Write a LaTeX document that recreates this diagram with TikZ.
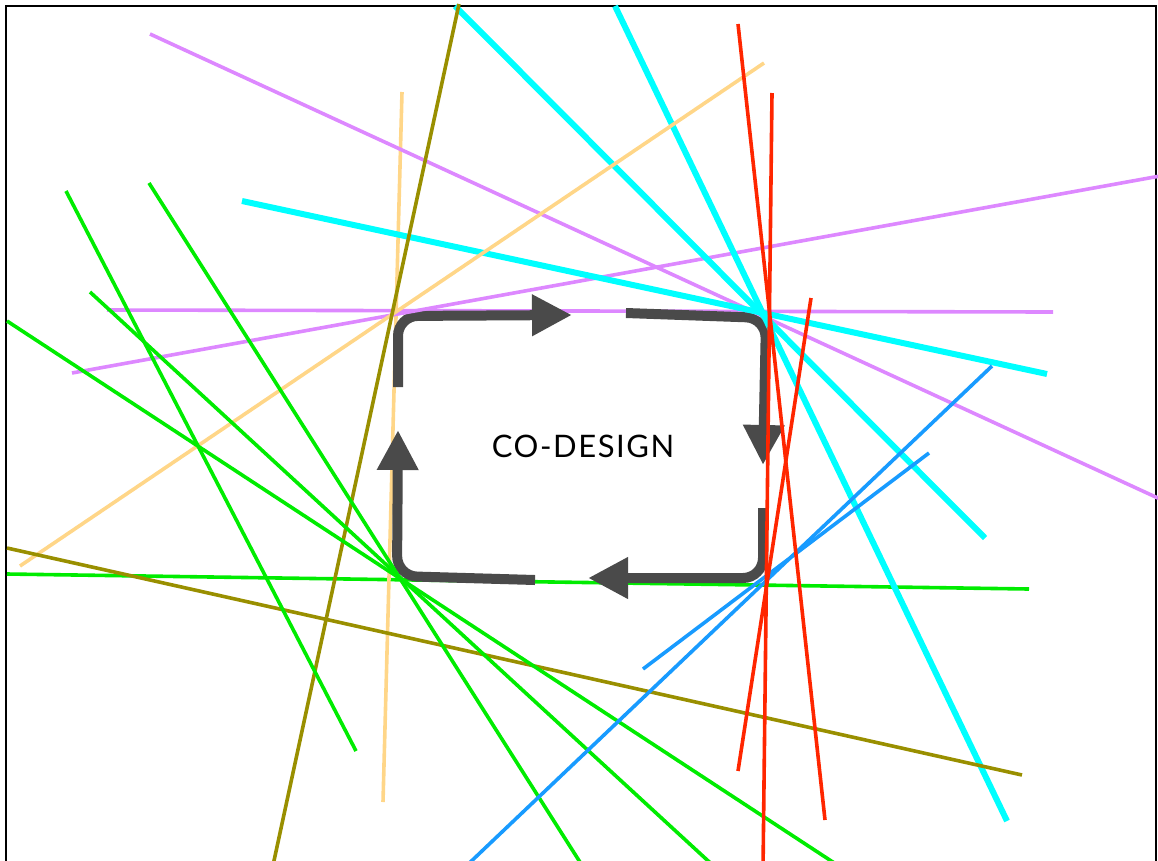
\documentclass[tikz,border=0pt]{standalone}
\usepackage{fontspec}
\setmainfont{Lato}
\usepackage{tikz}
\usetikzlibrary{arrows.meta}

\definecolor{lilac}{RGB}{221,136,255}
\definecolor{aqua}{RGB}{0,255,255}
\definecolor{leaf}{RGB}{0,236,0}
\definecolor{scarlet}{RGB}{255,38,0}
\definecolor{mustard}{RGB}{153,143,0}
\definecolor{peach}{RGB}{255,214,136}
\definecolor{sky}{RGB}{24,155,255}
\definecolor{loopgray}{RGB}{74,74,74}

\begin{document}
\begin{tikzpicture}[x=1pt, y=-1pt]
  \tikzset{ray/.style={line width=3.6pt},
    wide ray/.style={line width=6pt},
    cycle arrow/.style={draw=loopgray, line width=10pt, rounded corners=20pt, -{Triangle[length=40pt, width=39pt]}}}
  \useasboundingbox (0,0) rectangle (1158,860);
  \clip (0,0) rectangle (1158,860);
  \draw[line width=2pt] (6,6) rectangle (1156,890);

  % lines running behind the loop
  \draw[ray, lilac] (107,310) -- (1053,312);
  \draw[ray, leaf] (7,574) -- (1029,589);
  \draw[ray, peach] (402,92) -- (383,802);

  % the co-design loop
  \draw[cycle arrow] (398,387) -- (398,316) -- (572,315);
  \draw[cycle arrow] (626,313) -- (766,318) -- (763,465);
  \draw[cycle arrow] (763,508) -- (763,578) -- (588,578);
  \draw[cycle arrow] (535,580) -- (397,576) -- (398,430);
  \node[font=\fontsize{31}{31}\selectfont\addfontfeature{LetterSpace=5}] (codesign) at (583,446) {CO-DESIGN};

  % lines on top
  \draw[ray, lilac] (150,34) -- (1160,499);
  \draw[ray, lilac] (72,373) -- (1160,176);
  \draw[wide ray, aqua] (455,6) -- (985,538);
  \draw[wide ray, aqua] (615,6) -- (1007,821);
  \draw[wide ray, aqua] (242,201) -- (1047,374);
  \draw[ray, peach] (20,566) -- (764,63);
  \draw[ray, mustard] (459,4) -- (272,870);
  \draw[ray, mustard] (7,548) -- (1022,775);
  \draw[ray, leaf] (66,191) -- (356,751);
  \draw[ray, leaf] (149,183) -- (585,870);
  \draw[ray, leaf] (90,292) -- (718,870);
  \draw[ray, leaf] (7,321) -- (845,870);
  \draw[ray, sky] (992,366) -- (462,870);
  \draw[ray, sky] (929,453) -- (643,669);
  \draw[ray, scarlet] (738,24) -- (825,820);
  \draw[ray, scarlet] (772,93) -- (763,870);
  \draw[ray, scarlet] (811,298) -- (738,771);
\end{tikzpicture}
\end{document}
